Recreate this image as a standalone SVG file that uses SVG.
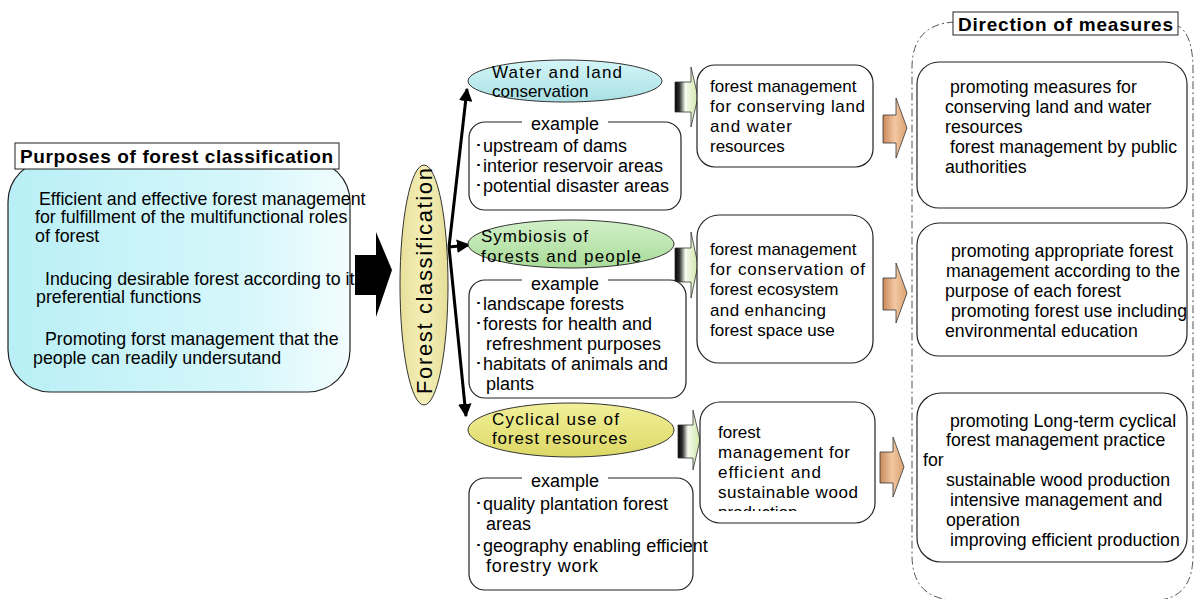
<svg xmlns="http://www.w3.org/2000/svg" width="1196" height="599" viewBox="0 0 1196 599">
<defs>
<style>
text{font-family:"Liberation Sans",Arial,sans-serif;font-size:17px;fill:#000}
.b{font-weight:bold;font-size:19px}
.l{font-size:17.8px}
.e{font-size:18px}
.r{font-size:17.7px}
.box{fill:#fff;stroke:#222;stroke-width:1.2}
.ell{stroke:#333;stroke-width:1}
.con{stroke:#000;stroke-width:3;fill:none}
</style>
<linearGradient id="gCyanBox" x1="0" y1="0" x2="1" y2="0"><stop offset="0" stop-color="#b9eff6"/><stop offset="0.7" stop-color="#d6f7fb"/><stop offset="1" stop-color="#f2fdfe"/></linearGradient>
<linearGradient id="gWater" x1="0" y1="0" x2="0" y2="1"><stop offset="0" stop-color="#d4f6f8"/><stop offset="1" stop-color="#a9e0e4"/></linearGradient>
<linearGradient id="gSym" x1="0" y1="0" x2="0" y2="1"><stop offset="0" stop-color="#d2f0c8"/><stop offset="1" stop-color="#a8db98"/></linearGradient>
<linearGradient id="gCyc" x1="0" y1="0" x2="0" y2="1"><stop offset="0" stop-color="#f2f09a"/><stop offset="1" stop-color="#dcd866"/></linearGradient>
<linearGradient id="gFC" x1="0" y1="0" x2="1" y2="0"><stop offset="0" stop-color="#e8e09a"/><stop offset="0.5" stop-color="#f4efb8"/><stop offset="1" stop-color="#e6de98"/></linearGradient>
<linearGradient id="gGreen" x1="0" y1="0" x2="1" y2="0"><stop offset="0" stop-color="#000"/><stop offset="0.2" stop-color="#333"/><stop offset="0.45" stop-color="#f6fbee"/><stop offset="1" stop-color="#cfe6a8"/></linearGradient>
<linearGradient id="gOrange" x1="0" y1="0" x2="1" y2="0"><stop offset="0" stop-color="#c8895a"/><stop offset="0.5" stop-color="#f2c8a2"/><stop offset="1" stop-color="#d9a070"/></linearGradient>
<marker id="ah" viewBox="0 0 10 10" refX="9" refY="5" markerWidth="4.5" markerHeight="4.5" orient="auto"><path d="M0,0 L10,5 L0,10 z" fill="#000"/></marker>
</defs>

<g id="purposes">
<rect x="8" y="160" width="342" height="232" rx="42" ry="42" fill="url(#gCyanBox)" stroke="#222" stroke-width="1.2"/>
<rect x="15" y="143" width="324" height="26" fill="#fff" stroke="#222" stroke-width="1"/>
<text class="b" x="20" y="163" textLength="313" lengthAdjust="spacing">Purposes of forest classification</text>
<text class="l" x="39" y="205">Efficient and effective forest management</text>
<text class="l" x="35" y="223">for fulfillment of the multifunctional roles</text>
<text class="l" x="35" y="242">of forest</text>
<text class="l" x="45" y="285">Inducing desirable forest according to its</text>
<text class="l" x="36" y="303">preferential functions</text>
<text class="l" x="45" y="345">Promoting forst management that the</text>
<text class="l" x="33" y="364">people can readily undersutand</text>
</g>

<g id="bigArrow">
<polygon points="355,255 376,255 376,232 392,270 376,317 376,295 355,295" fill="#000"/>
</g>

<g id="forestClassification">
<ellipse cx="424" cy="285" rx="24" ry="120" fill="url(#gFC)" class="ell"/>
<text x="0" y="0" transform="translate(432,394) rotate(-90)" style="font-size:22px" textLength="226" lengthAdjust="spacing">Forest classification</text>
</g>

<g id="connectors">
<line x1="449" y1="247" x2="467" y2="89" class="con" marker-end="url(#ah)"/>
<line x1="449" y1="247" x2="466" y2="416" class="con" marker-end="url(#ah)"/>
<line x1="449" y1="247" x2="469" y2="245" class="con" marker-end="url(#ah)"/>
<g id="greenArrows" stroke="#333" stroke-width="0.8" fill="url(#gGreen)">
<path d="M675,82 H691 V67 L698,97 L691,127 V112 H675 Z"/>
<path d="M675,248 H691 V232 L698,265 L691,298 V282 H675 Z"/>
<path d="M678,425 H693 V410 L700,440 L693,470 V458 H678 Z"/>
</g>
<g id="orangeArrows" stroke="#333" stroke-width="0.8" fill="url(#gOrange)">
<path d="M883,115 H896 V98 L907,128 L896,158 V143 H883 Z"/>
<path d="M883,278 H896 V263 L907,293 L896,323 V310 H883 Z"/>
<path d="M880,452 H893 V437 L904,467 L893,497 V483 H880 Z"/>
</g>
</g>

<g id="water">
<ellipse cx="565" cy="81" rx="97" ry="21" fill="url(#gWater)" class="ell"/>
<text x="492" y="78" textLength="130" lengthAdjust="spacing">Water and land</text>
<text x="492" y="97">conservation</text>
</g>
<g id="example1">
<rect x="469" y="122" width="212" height="88" rx="16" class="box"/>
<rect x="522" y="116" width="86" height="14" fill="#fff"/>
<text class="e" x="565" y="130" text-anchor="middle">example</text>
<text class="e" x="474" y="152">･upstream of dams</text>
<text class="e" x="474" y="172">･interior reservoir areas</text>
<text class="e" x="474" y="192">･potential disaster areas</text>
</g>

<g id="symbiosis">
<ellipse cx="571" cy="244" rx="103" ry="24" fill="url(#gSym)" class="ell"/>
<text x="481" y="242" textLength="107" lengthAdjust="spacing">Symbiosis of</text>
<text x="481" y="262" textLength="160" lengthAdjust="spacing">forests and people</text>
</g>
<g id="example2">
<rect x="469" y="280" width="217" height="118" rx="16" class="box"/>
<rect x="522" y="274" width="86" height="14" fill="#fff"/>
<text class="e" x="565" y="290" text-anchor="middle">example</text>
<text class="e" x="474" y="310">･landscape forests</text>
<text class="e" x="474" y="330">･forests for health and</text>
<text class="e" x="486" y="350">refreshment purposes</text>
<text class="e" x="474" y="370">･habitats of animals and</text>
<text class="e" x="486" y="390">plants</text>
</g>

<g id="cyclical">
<ellipse cx="571" cy="430" rx="103" ry="27" fill="url(#gCyc)" class="ell"/>
<text x="492" y="425" textLength="127" lengthAdjust="spacing">Cyclical use of</text>
<text x="492" y="444" textLength="135" lengthAdjust="spacing">forest resources</text>
</g>
<g id="example3">
<rect x="469" y="478" width="224" height="112" rx="16" class="box"/>
<rect x="522" y="472" width="86" height="14" fill="#fff"/>
<text class="e" x="565" y="487" text-anchor="middle">example</text>
<text class="e" x="474" y="510">･quality plantation forest</text>
<text class="e" x="486" y="530">areas</text>
<text class="e" x="474" y="552">･geography enabling efficient</text>
<text class="e" x="486" y="572" textLength="112" lengthAdjust="spacing">forestry work</text>
</g>

<g id="mgmt1">
<rect x="697" y="65" width="176" height="102" rx="18" class="box"/>
<text x="710" y="92">forest management</text>
<text x="710" y="112" textLength="155" lengthAdjust="spacing">for conserving land</text>
<text x="710" y="132" textLength="82" lengthAdjust="spacing">and water</text>
<text x="710" y="152">resources</text>
</g>
<g id="mgmt2">
<rect x="697" y="215" width="176" height="148" rx="22" class="box"/>
<text x="710" y="255">forest management</text>
<text x="710" y="275" textLength="155" lengthAdjust="spacing">for conservation of</text>
<text x="710" y="295">forest ecosystem</text>
<text x="710" y="316" textLength="116" lengthAdjust="spacing">and enhancing</text>
<text x="710" y="336">forest space use</text>
</g>
<g id="mgmt3">
<clipPath id="c3"><rect x="700" y="402" width="175" height="109"/></clipPath>
<rect x="700" y="402" width="175" height="121" rx="20" class="box"/>
<g clip-path="url(#c3)">
<text x="718" y="438">forest</text>
<text x="718" y="458" textLength="132" lengthAdjust="spacing">management for</text>
<text x="718" y="478" textLength="103" lengthAdjust="spacing">efficient and</text>
<text x="718" y="498" textLength="140" lengthAdjust="spacing">sustainable wood</text>
<text x="718" y="518">production</text>
</g>
</g>

<g id="directionContainer">
<path d="M955,22 Q912,24 912,68 V555 Q912,596 950,600 M1160,600 Q1193,596 1193,555 V70 Q1193,34 1178,26" fill="none" stroke="#555" stroke-width="1" stroke-dasharray="8 3 2 3"/>
<rect x="953" y="12" width="225" height="23" fill="#fff" stroke="#222" stroke-width="1"/>
<text class="b" x="958" y="31" textLength="215" lengthAdjust="spacing">Direction of measures</text>
</g>

<g id="measure1">
<rect x="917" y="62" width="270" height="146" rx="22" class="box"/>
<text class="r" x="950" y="93">promoting measures for</text>
<text class="r" x="945" y="113">conserving land and water</text>
<text class="r" x="945" y="133">resources</text>
<text class="r" x="950" y="153">forest management by public</text>
<text class="r" x="945" y="173">authorities</text>
</g>
<g id="measure2">
<rect x="917" y="223" width="270" height="133" rx="22" class="box"/>
<text class="r" x="951" y="257">promoting appropriate forest</text>
<text class="r" x="946" y="277">management according to the</text>
<text class="r" x="945" y="297">purpose of each forest</text>
<text class="r" x="951" y="317">promoting forest use including</text>
<text class="r" x="945" y="337">environmental education</text>
</g>
<g id="measure3">
<rect x="917" y="393" width="270" height="169" rx="24" class="box"/>
<text class="r" x="950" y="427">promoting Long-term cyclical</text>
<text class="r" x="946" y="446">forest management practice</text>
<text class="r" x="923" y="466">for</text>
<text class="r" x="946" y="486">sustainable wood production</text>
<text class="r" x="950" y="506">intensive management and</text>
<text class="r" x="946" y="526">operation</text>
<text class="r" x="950" y="546">improving efficient production</text>
</g>
</svg>
